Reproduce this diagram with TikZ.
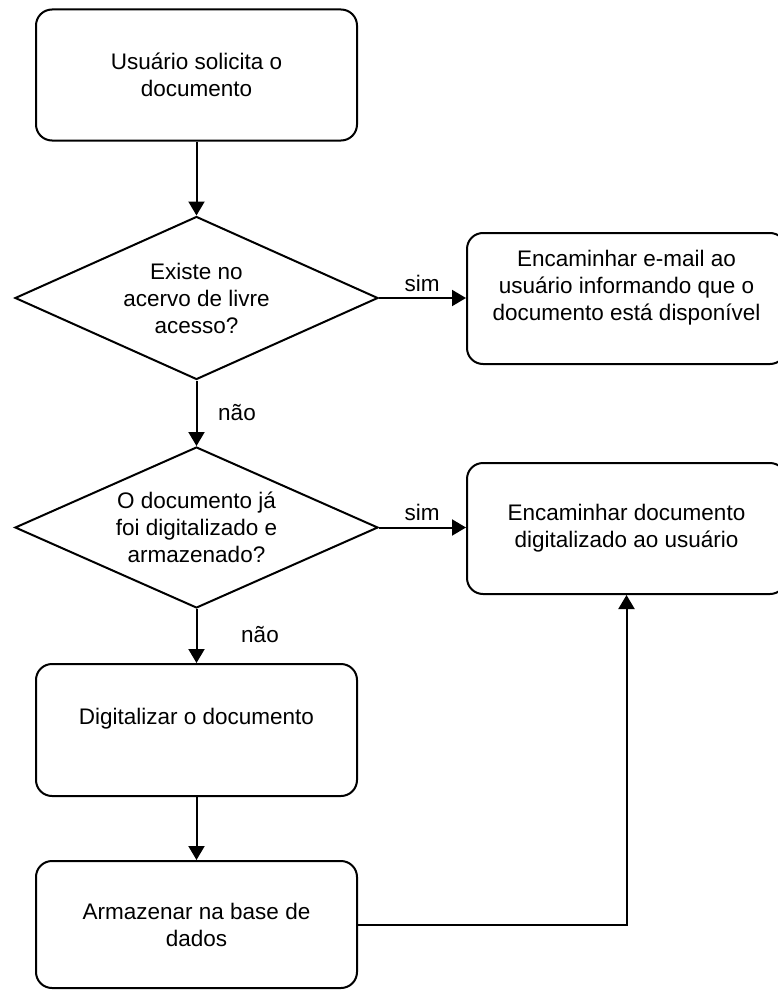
\documentclass[tikz,border=0pt]{standalone}
\usepackage{fontspec}
\setmainfont{Liberation Sans}
\usetikzlibrary{shapes.geometric,arrows.meta}
\begin{document}
\begin{tikzpicture}[x=1pt,y=-1pt,
  every node/.style={font=\fontsize{22.5}{27}\selectfont, align=center, inner sep=0pt},
  stepbox/.style={draw, line width=2pt, rounded corners=16pt, minimum width=321pt, minimum height=131pt},
  decision/.style={draw, line width=2pt, diamond, aspect=2.2, minimum width=363pt, minimum height=163pt},
  flow/.style={line width=2pt, -{Triangle[length=14pt,width=16pt]}},
  lbl/.style={anchor=center}]
\useasboundingbox (0,0) rectangle (777,990);

% process steps and decisions
\node[stepbox] (b1) at (196.5,75) {Usuário solicita o\\documento};
\node[decision] (d1) at (196.5,298) {Existe no\\acervo de livre\\acesso?};
\node[stepbox, minimum width=319pt] (b2) at (626.5,298.5) {Encaminhar e-mail ao\\usuário informando que o\\documento está disponível\\ };
\node[decision, minimum height=161pt] (d2) at (196.5,527.5) {O documento já\\foi digitalizado e\\armazenado?};
\node[stepbox, minimum width=319pt] (b3) at (626.5,528.5) {Encaminhar documento\\digitalizado ao usuário};
\node[stepbox, minimum height=132pt] (b4) at (196.5,730) {Digitalizar o documento\\ };
\node[stepbox, minimum height=127pt] (b5) at (196.5,924.5) {Armazenar na base de\\dados};

% connectors
\draw[flow] (b1.south) -- (d1.north);
\draw[flow] (d1.east) -- (b2.west |- d1.east);
\draw[flow] (d1.south) -- (d2.north);
\draw[flow] (d2.east) -- (b3.west |- d2.east);
\draw[flow] (d2.south) -- (b4.north);
\draw[flow] (b4.south) -- (b5.north);
\draw[flow] (b5.east) -| (b3.south);

% branch labels
\node[lbl] (s1) at (422,283) {sim};
\node[lbl] (s2) at (422,512) {sim};
\node[lbl] (n1) at (237,413) {não};
\node[lbl] (n2) at (260,635) {não};
\end{tikzpicture}
\end{document}
